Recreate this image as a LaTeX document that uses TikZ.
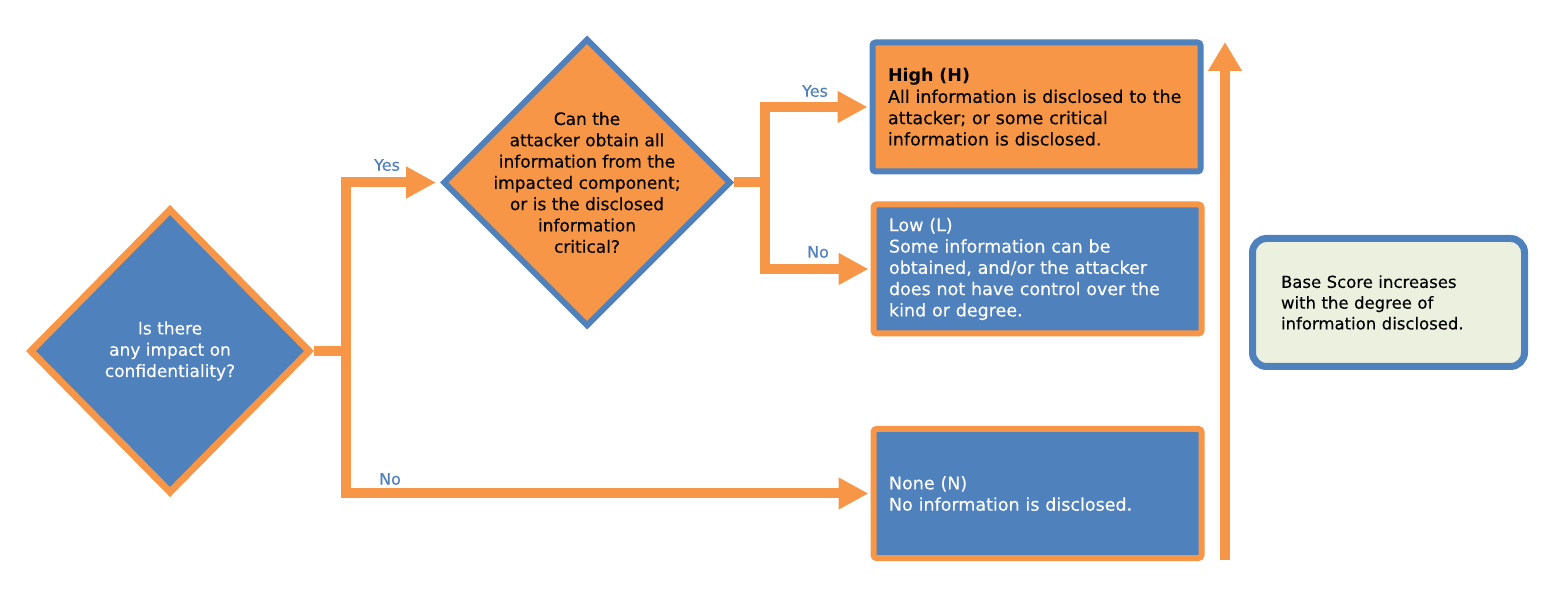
\documentclass[tikz,border=0pt]{standalone}
\usepackage{fontspec}
\setmainfont{DejaVu Sans}[FakeBold=0.25, BoldFeatures={FakeBold=0}]
\usetikzlibrary{arrows.meta,shapes.geometric}
\definecolor{cblue}{HTML}{4F81BD}
\definecolor{corange}{HTML}{F79646}
\definecolor{cpale}{HTML}{EBF1DE}
\begin{document}
\begin{tikzpicture}[x=1pt,y=-1pt,
  font=\fontsize{17}{21.3}\selectfont,
  dia/.style={shape=diamond, inner sep=0pt, aspect=1},
  box/.style={rectangle, rounded corners=3pt, line width=6pt, minimum width=328pt,
    minimum height=129pt, text width=297pt, align=left, inner xsep=15.5pt, inner ysep=0pt,
    font=\fontsize{17.5}{21.3}\selectfont},
  link/.style={draw=corange, line width=10pt},
  arr/.style={link, -{Triangle[length=30pt,width=30pt]}},
  lab/.style={text=cblue, font=\fontsize{16}{19}\selectfont, inner sep=0pt}]
\useasboundingbox (0,0) rectangle (1559,601);

% decisions
\node[dia, fill=cblue, draw=corange, line width=7pt, minimum width=281pt, minimum height=285pt] (q1) at (170,351) {};
\node[align=center, text=white] (q1t) at (q1.center) {Is there\\any impact on\\confidentiality?};
\node[dia, fill=corange, draw=cblue, line width=6pt, minimum width=288pt, minimum height=288pt] (q2) at (587,182.5) {};
\node[align=center, text=black] (q2t) at (q2.center) {Can the\\attacker obtain all\\information from the\\impacted component;\\or is the disclosed\\information\\critical?};

% outcomes
\node[box, fill=corange, draw=cblue, text=black] (h) at (1036.5,107) {\textbf{High (H)}\\All information is disclosed to the\\attacker; or some critical\\information is disclosed.};
\node[box, fill=cblue, draw=corange, text=white] (l) at (1037.5,269) {Low (L)\\Some information can be\\obtained, and/or the attacker\\does not have control over the\\kind or degree.};
\node[box, fill=cblue, draw=corange, text=white] (n) at (1037.5,493.5) {None (N)\\No information is disclosed.};

% note
\node[draw=cblue, fill=cpale, line width=7pt, rounded corners=14pt, minimum width=272pt,
  minimum height=128pt, text width=215pt, inner xsep=28pt, align=left,
  font=\fontsize{16.5}{20.8}\selectfont] (b) at (1388.5,302.5)
  {Base Score increases\\with the degree of\\information disclosed.};

% connectors
\coordinate (t1) at (346,351);
\draw[arr, shorten >=4pt] (q1.east) -- (t1) |- (q2.west);
\draw[arr, shorten >=2pt] (t1) |- (n.west);
\coordinate (t2) at (765,182.5);
\draw[link] (q2.east) -- (t2);
\draw[arr, shorten >=2pt] (t2) |- (h.west);
\draw[arr, shorten >=2pt] (t2) |- (l.west);

\coordinate (ab) at (1225,560);
\coordinate (at) at (1225,42);
\draw[link, -{Triangle[length=29pt,width=32pt]}] (ab) -- (at);

% labels
\node[lab] (yes1) at (387,165) {Yes};
\node[lab] (no1) at (390,479) {No};
\node[lab] (yes2) at (815,91) {Yes};
\node[lab] (no2) at (818,252) {No};
\end{tikzpicture}
\end{document}
